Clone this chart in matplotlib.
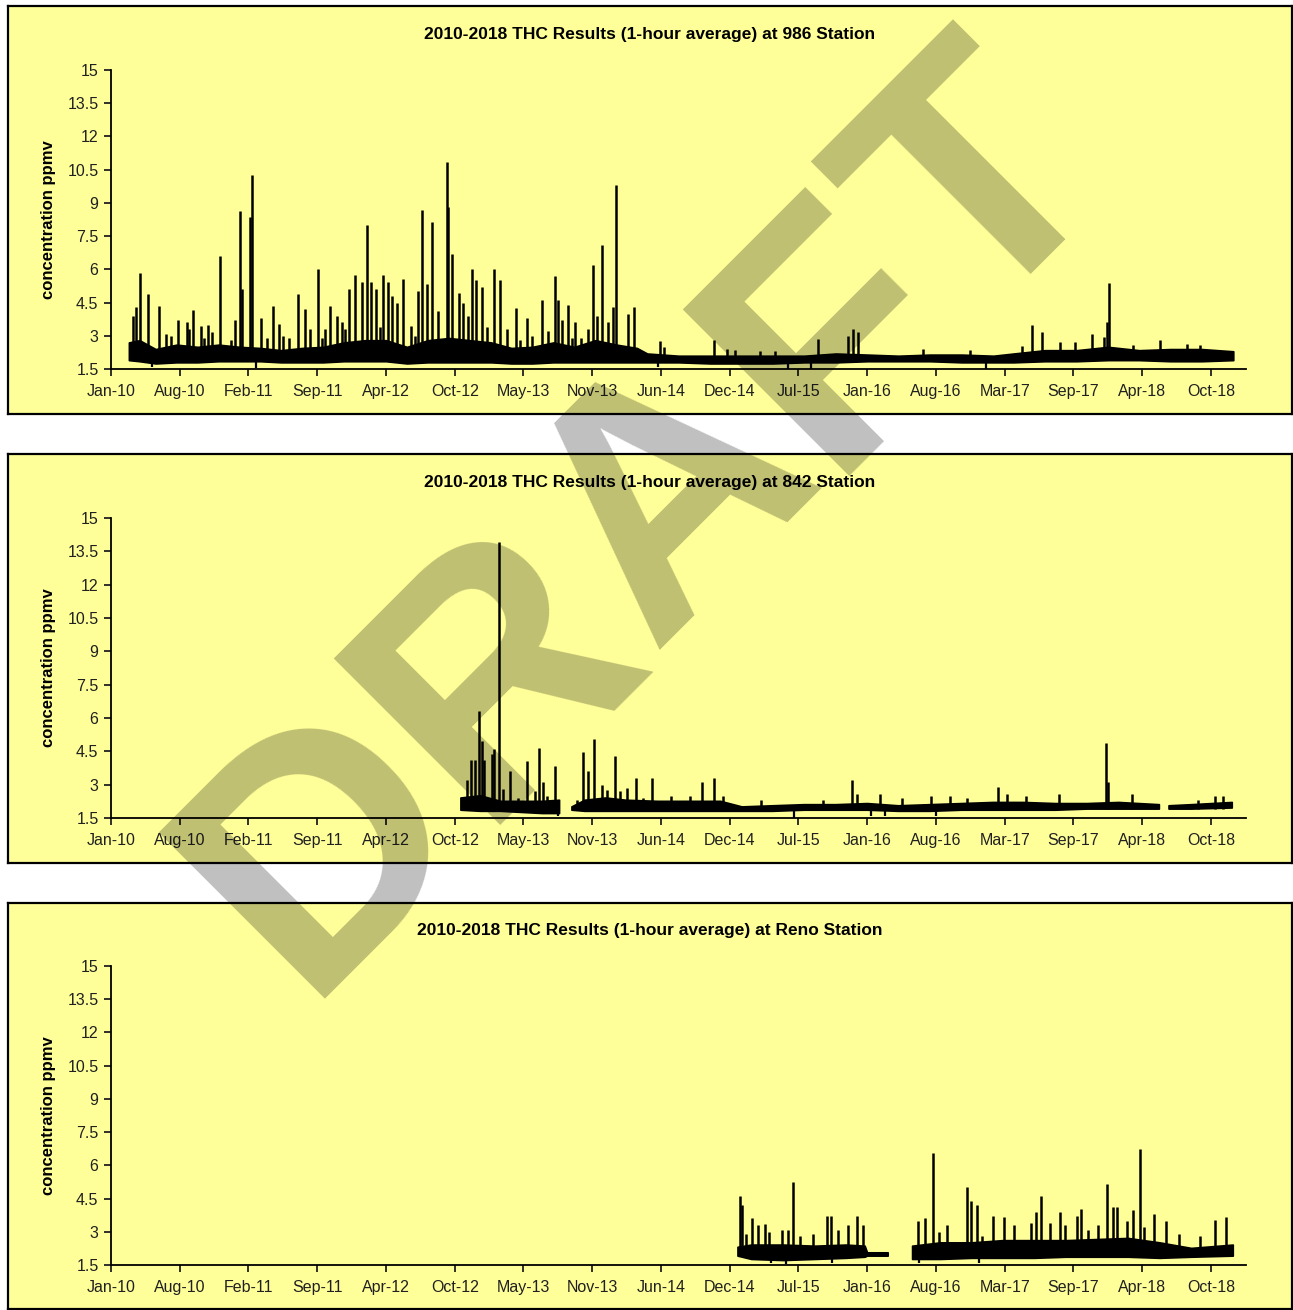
import numpy as np
import pandas as pd
import matplotlib
matplotlib.use("Agg")
import matplotlib.pyplot as plt

plt.rcParams['font.family'] = ['Liberation Sans', 'DejaVu Sans']

# -----------------------------
# AXES (Excel date axis, 200-day major unit)
# -----------------------------
axis_start = "2010-01-22"
axis_end = "2019-02-06"
tick_labels = ["Jan-10", "Aug-10", "Feb-11", "Sep-11", "Apr-12", "Oct-12",
               "May-13", "Nov-13", "Jun-14", "Dec-14", "Jul-15", "Jan-16",
               "Aug-16", "Mar-17", "Sep-17", "Apr-18", "Oct-18"]
y_ticks = [1.5, 3, 4.5, 6, 7.5, 9, 10.5, 12, 13.5, 15]
y_tick_labels = ["1.5", "3", "4.5", "6", "7.5", "9", "10.5", "12", "13.5", "15"]

# -----------------------------
# 986 STATION
# -----------------------------
st986_band_dates = ["2010-03-15", "2010-04-15", "2010-06-01", "2010-08-01", "2010-10-01",
                    "2010-12-01", "2011-02-01", "2011-04-01", "2011-06-01", "2011-08-01",
                    "2011-10-01", "2011-12-01", "2012-02-01", "2012-04-01", "2012-06-01",
                    "2012-08-01", "2012-10-01", "2012-12-01", "2013-02-01", "2013-04-01",
                    "2013-06-01", "2013-08-01", "2013-10-01", "2013-12-01", "2014-02-01",
                    "2014-04-01", "2014-05-01", "2014-08-01", "2014-11-01", "2015-02-01",
                    "2015-05-01", "2015-08-01", "2015-11-01", "2016-02-01", "2016-05-01",
                    "2016-08-01", "2016-11-01", "2017-02-01", "2017-04-01", "2017-07-01",
                    "2017-10-01", "2018-01-01", "2018-04-01", "2018-07-01", "2018-10-01",
                    "2018-12-31"]
st986_band_lo = [1.9, 1.85, 1.75, 1.8, 1.8, 1.85, 1.85, 1.85, 1.8, 1.8,
                 1.8, 1.85, 1.85, 1.85, 1.75, 1.8, 1.8, 1.8, 1.8, 1.75,
                 1.75, 1.8, 1.8, 1.8, 1.8, 1.8, 1.8, 1.8, 1.75, 1.75,
                 1.75, 1.8, 1.8, 1.85, 1.85, 1.85, 1.8, 1.8, 1.8, 1.85,
                 1.85, 1.9, 1.9, 1.85, 1.85, 1.9]
st986_band_hi = [2.7, 2.8, 2.4, 2.6, 2.5, 2.6, 2.5, 2.45, 2.35, 2.45,
                 2.5, 2.7, 2.8, 2.8, 2.5, 2.8, 2.9, 2.8, 2.7, 2.45,
                 2.5, 2.7, 2.5, 2.8, 2.6, 2.45, 2.2, 2.1, 2.1, 2.1,
                 2.1, 2.1, 2.2, 2.15, 2.1, 2.15, 2.15, 2.1, 2.2, 2.35,
                 2.35, 2.5, 2.35, 2.4, 2.4, 2.3]
st986_spike_dates = ["2010-03-26", "2010-04-05", "2010-04-16", "2010-05-09", "2010-06-10",
                     "2010-06-30", "2010-07-15", "2010-08-06", "2010-08-30", "2010-09-05",
                     "2010-09-18", "2010-10-10", "2010-10-20", "2010-11-01", "2010-11-11",
                     "2010-12-05", "2011-01-05", "2011-01-18", "2011-02-01", "2011-02-06",
                     "2011-03-02", "2011-03-09", "2011-04-02", "2011-04-22", "2011-05-09",
                     "2011-05-27", "2011-06-05", "2011-06-25", "2011-07-19", "2011-08-09",
                     "2011-08-25", "2011-09-15", "2011-09-28", "2011-10-07", "2011-10-21",
                     "2011-11-11", "2011-11-25", "2011-12-04", "2011-12-15", "2012-01-02",
                     "2012-01-21", "2012-02-05", "2012-02-16", "2012-03-03", "2012-03-14",
                     "2012-03-24", "2012-04-06", "2012-04-18", "2012-05-02", "2012-05-20",
                     "2012-06-13", "2012-06-25", "2012-07-04", "2012-07-14", "2012-07-28",
                     "2012-08-12", "2012-08-31", "2012-09-25", "2012-09-29", "2012-10-11",
                     "2012-10-30", "2012-11-12", "2012-11-25", "2012-12-06", "2012-12-19",
                     "2013-01-04", "2013-01-20", "2013-02-10", "2013-02-27", "2013-03-18",
                     "2013-04-13", "2013-04-26", "2013-05-17", "2013-05-30", "2013-06-29",
                     "2013-07-15", "2013-08-06", "2013-08-15", "2013-08-25", "2013-09-12",
                     "2013-09-25", "2013-10-03", "2013-10-20", "2013-11-11", "2013-11-25",
                     "2013-12-05", "2013-12-21", "2014-01-08", "2014-01-20", "2014-01-29",
                     "2014-02-11", "2014-03-07", "2014-03-23", "2014-06-07", "2014-06-19",
                     "2014-11-12", "2014-12-18", "2015-01-11", "2015-03-25", "2015-05-08",
                     "2015-09-11", "2015-12-07", "2015-12-21", "2016-01-05", "2016-07-12",
                     "2016-11-25", "2017-04-24", "2017-05-23", "2017-06-23", "2017-08-14",
                     "2017-09-26", "2017-11-16", "2017-12-20", "2017-12-29", "2018-01-04",
                     "2018-03-15", "2018-05-31", "2018-08-17", "2018-09-25"]
st986_spike_vals = [3.9, 4.3, 5.85, 4.9, 4.35, 3.1, 3.0, 3.7, 3.6, 3.3,
                    4.15, 3.45, 2.9, 3.5, 3.15, 6.6, 2.8, 3.7, 8.65, 5.1,
                    8.35, 10.25, 3.8, 2.9, 4.35, 3.55, 3.0, 2.9, 4.9, 4.2,
                    3.3, 6.0, 2.9, 3.3, 4.35, 3.9, 3.6, 3.3, 5.1, 5.75,
                    5.45, 8.0, 5.45, 5.1, 3.4, 5.75, 5.45, 4.8, 4.5, 5.55,
                    3.45, 3.0, 5.0, 8.7, 5.35, 8.15, 4.1, 10.85, 8.8, 6.7,
                    4.95, 4.5, 3.9, 6.0, 5.5, 5.2, 3.4, 6.0, 5.5, 3.3,
                    4.25, 2.8, 3.8, 3.0, 4.6, 3.2, 5.7, 4.6, 3.7, 4.4,
                    2.9, 3.6, 2.9, 3.3, 6.2, 3.9, 7.1, 3.6, 4.3, 9.8,
                    2.6, 4.0, 4.3, 2.75, 2.5, 2.8, 2.4, 2.35, 2.3, 2.3,
                    2.85, 3.0, 3.3, 3.15, 2.4, 2.35, 2.55, 3.5, 3.15, 2.7,
                    2.7, 3.1, 2.95, 3.6, 5.37, 2.6, 2.8, 2.65, 2.6]
st986_dip_dates = ["2010-05-20", "2011-03-20", "2014-06-01", "2015-06-15", "2015-08-20", "2017-01-10"]
st986_dip_vals = [1.6, 1.55, 1.6, 1.5, 1.5, 1.5]

# -----------------------------
# 842 STATION
# -----------------------------
st842_band_dates = ["2012-11-05", "2013-01-01", "2013-03-01", "2013-05-01", "2013-07-01",
                    "2013-08-19", "2013-09-05", "2013-09-24", "2013-11-01", "2014-01-01",
                    "2014-03-01", "2014-06-01", "2014-09-01", "2014-12-01", "2015-02-01",
                    "2015-05-01", "2015-08-01", "2015-11-01", "2016-02-01", "2016-05-01",
                    "2016-08-01", "2016-11-01", "2017-02-01", "2017-05-01", "2017-08-01",
                    "2017-11-01", "2018-02-01", "2018-05-30", "2018-06-10", "2018-06-27",
                    "2018-09-01", "2018-12-28"]
st842_band_lo = [1.85, 1.8, 1.8, 1.75, 1.7, 1.7, np.nan, 1.85, 1.8, 1.8,
                 1.8, 1.8, 1.8, 1.8, 1.8, 1.8, 1.85, 1.85, 1.85, 1.8,
                 1.8, 1.85, 1.85, 1.85, 1.85, 1.9, 1.9, 1.9, np.nan, 1.9,
                 1.9, 1.95]
st842_band_hi = [2.4, 2.5, 2.25, 2.25, 2.25, 2.3, np.nan, 2.0, 2.3, 2.4,
                 2.3, 2.25, 2.25, 2.25, 2.0, 2.05, 2.1, 2.1, 2.15, 2.05,
                 2.1, 2.15, 2.2, 2.2, 2.15, 2.15, 2.2, 2.1, np.nan, 2.05,
                 2.1, 2.2]
st842_spike_dates = ["2012-11-23", "2012-12-05", "2012-12-17", "2012-12-27", "2013-01-05",
                     "2013-01-12", "2013-02-04", "2013-02-10", "2013-02-25", "2013-03-07",
                     "2013-03-28", "2013-04-21", "2013-05-17", "2013-06-08", "2013-06-20",
                     "2013-07-02", "2013-07-14", "2013-08-07", "2013-10-10", "2013-10-25",
                     "2013-11-09", "2013-11-26", "2013-12-20", "2014-01-05", "2014-01-27",
                     "2014-02-12", "2014-03-04", "2014-03-28", "2014-04-18", "2014-05-16",
                     "2014-07-10", "2014-09-02", "2014-10-06", "2014-11-11", "2014-12-08",
                     "2015-03-27", "2015-09-25", "2015-12-19", "2015-12-31", "2016-03-09",
                     "2016-05-10", "2016-08-05", "2016-09-29", "2016-11-16", "2017-02-14",
                     "2017-03-12", "2017-05-08", "2017-08-12", "2017-12-26", "2018-01-01",
                     "2018-03-12", "2018-09-19", "2018-11-07", "2018-12-01"]
st842_spike_vals = [3.2, 4.1, 4.1, 6.3, 4.95, 4.1, 4.4, 4.6, 13.9, 2.8,
                    3.6, 2.4, 4.05, 2.7, 4.65, 3.1, 2.5, 3.85, 2.3, 4.45,
                    3.6, 5.05, 3.0, 2.75, 4.3, 2.7, 2.85, 3.3, 2.4, 3.3,
                    2.5, 2.5, 3.1, 3.3, 2.5, 2.3, 2.3, 3.2, 2.6, 2.6,
                    2.4, 2.5, 2.5, 2.4, 2.9, 2.6, 2.5, 2.6, 4.87, 3.1,
                    2.6, 2.3, 2.5, 2.5]
st842_dip_dates = ["2013-08-15", "2015-07-02", "2016-02-11", "2016-03-22", "2016-08-17"]
st842_dip_vals = [1.6, 1.5, 1.6, 1.6, 1.6]

# -----------------------------
# RENO STATION
# -----------------------------
reno_band_dates = ["2015-01-20", "2015-03-01", "2015-06-01", "2015-09-01", "2015-12-01",
                   "2016-01-25", "2016-02-01", "2016-04-01", "2016-05-01", "2016-06-11",
                   "2016-09-01", "2016-12-01", "2017-03-01", "2017-06-01", "2017-09-01",
                   "2017-12-01", "2018-03-01", "2018-06-01", "2018-09-01", "2018-12-31"]
reno_band_lo = [1.9, 1.75, 1.7, 1.75, 1.8, 1.85, 1.9, 1.9, np.nan, 1.75,
                1.75, 1.8, 1.8, 1.8, 1.85, 1.85, 1.85, 1.8, 1.85, 1.9]
reno_band_hi = [2.3, 2.4, 2.4, 2.35, 2.4, 2.35, 2.05, 2.05, np.nan, 2.35,
                2.5, 2.5, 2.6, 2.6, 2.6, 2.65, 2.7, 2.5, 2.25, 2.4]
reno_spike_dates = ["2015-01-26", "2015-02-01", "2015-02-13", "2015-03-03", "2015-03-18",
                    "2015-04-09", "2015-04-20", "2015-05-27", "2015-06-14", "2015-06-30",
                    "2015-07-20", "2015-08-26", "2015-10-05", "2015-10-17", "2015-11-07",
                    "2015-12-07", "2016-01-02", "2016-01-18", "2016-06-27", "2016-07-18",
                    "2016-08-10", "2016-08-27", "2016-09-20", "2016-11-15", "2016-11-28",
                    "2016-12-14", "2016-12-31", "2017-01-31", "2017-03-05", "2017-04-02",
                    "2017-05-21", "2017-06-04", "2017-06-19", "2017-07-16", "2017-08-13",
                    "2017-08-28", "2017-10-01", "2017-10-13", "2017-11-02", "2017-12-03",
                    "2017-12-29", "2018-01-14", "2018-01-26", "2018-02-26", "2018-03-15",
                    "2018-04-03", "2018-04-15", "2018-05-13", "2018-06-18", "2018-07-27",
                    "2018-09-26", "2018-11-07", "2018-12-10"]
reno_spike_vals = [4.6, 4.2, 2.9, 3.6, 3.3, 3.35, 3.0, 3.1, 3.1, 5.25,
                   2.8, 2.9, 3.7, 3.7, 3.1, 3.3, 3.7, 3.3, 3.5, 3.6,
                   6.55, 3.0, 3.3, 5.0, 4.4, 4.2, 2.8, 3.7, 3.65, 3.3,
                   3.4, 3.9, 4.6, 3.4, 3.9, 3.3, 3.7, 4.05, 3.1, 3.3,
                   5.15, 4.1, 4.1, 3.5, 4.0, 6.75, 3.2, 3.8, 3.5, 2.9,
                   2.8, 3.55, 3.65]
reno_dip_dates = ["2015-04-25", "2015-06-10", "2015-10-20", "2016-07-01", "2016-12-20"]
reno_dip_vals = [1.6, 1.55, 1.6, 1.6, 1.6]

titles = ["2010-2018 THC Results (1-hour average) at 986 Station",
          "2010-2018 THC Results (1-hour average) at 842 Station",
          "2010-2018 THC Results (1-hour average) at Reno Station"]

stations = [
    (st986_band_dates, st986_band_lo, st986_band_hi, st986_spike_dates, st986_spike_vals, st986_dip_dates, st986_dip_vals),
    (st842_band_dates, st842_band_lo, st842_band_hi, st842_spike_dates, st842_spike_vals, st842_dip_dates, st842_dip_vals),
    (reno_band_dates, reno_band_lo, reno_band_hi, reno_spike_dates, reno_spike_vals, reno_dip_dates, reno_dip_vals),
]

# -----------------------------
# FIGURE
# -----------------------------
W, H = 1293, 1310
fig = plt.figure(figsize=(W / 100, H / 100), dpi=100)

# panel boxes (pixel coords: top, bottom) and plot areas (top, bottom)
boxes = [(6, 414), (454, 863), (903, 1309)]
plots = [(70, 369), (518, 818), (966, 1265)]
box_left, box_right = 8, 1292
plot_left, plot_right = 111, 1246

t0 = pd.Timestamp(axis_start)
tick_pos = [t0 + pd.Timedelta(days=200 * k) for k in range(len(tick_labels))]

for i in range(3):
    bt, bb = boxes[i]
    bg = fig.add_axes([box_left / W, 1 - bb / H, (box_right - box_left) / W, (bb - bt) / H])
    bg.set_facecolor("#FFFF99")
    bg.set_xticks([])
    bg.set_yticks([])
    for s in bg.spines.values():
        s.set_linewidth(1.6)
        s.set_color("black")

    pt, pb = plots[i]
    ax = fig.add_axes([plot_left / W, 1 - pb / H, (plot_right - plot_left) / W, (pb - pt) / H])
    ax.patch.set_alpha(0)

    bd, lo, hi, sd, sv, dd, dv = stations[i]
    bd = pd.to_datetime(bd)
    lo = np.array(lo, dtype=float)
    hi = np.array(hi, dtype=float)
    ax.fill_between(bd, lo, hi, color="black", lw=1.2, edgecolor="black")
    ax.vlines(pd.to_datetime(sd), 1.9, sv, color="black", lw=1.8)
    ax.vlines(pd.to_datetime(dd), dv, 1.9, color="black", lw=1.6)

    ax.set_xlim(t0, pd.Timestamp(axis_end))
    ax.set_ylim(1.5, 15)
    ax.set_xticks(tick_pos)
    ax.set_xticklabels(tick_labels)
    ax.set_yticks(y_ticks)
    ax.set_yticklabels(y_tick_labels)
    ax.tick_params(axis="both", labelsize=11.5, colors="#202020", width=1.3, length=5, direction="out", pad=4)
    ax.tick_params(axis="x", pad=6)
    for s in ["top", "right"]:
        ax.spines[s].set_visible(False)
    for s in ["left", "bottom"]:
        ax.spines[s].set_linewidth(1.3)
    ax.set_ylabel("concentration ppmv", fontsize=12, fontweight="bold", labelpad=8)

    fig.text((box_left + box_right) / 2 / W, 1 - (bt + 28) / H, titles[i],
             ha="center", va="center", fontsize=12.5, fontweight="bold")

# -----------------------------
# DRAFT watermark, one letter at a time along a 45 degree line
# -----------------------------
word = "DRAFT"
wm_size = 246
wm_center = (649, 1310 - 527)   # pixels from bottom-left
renderer = fig.canvas.get_renderer()
prefix_w = [0.0]
for k in range(1, len(word) + 1):
    tmp = fig.text(0, 0, word[:k], fontsize=wm_size, fontweight="bold")
    prefix_w.append(tmp.get_window_extent(renderer).width)
    tmp.remove()
total = prefix_w[-1]
c45 = np.cos(np.radians(45))
for k, ch in enumerate(word):
    off = (prefix_w[k] + prefix_w[k + 1]) / 2 - total / 2
    px = wm_center[0] + off * c45
    py = wm_center[1] + off * c45
    fig.text(px / W, py / H, ch, fontsize=wm_size, fontweight="bold", color="black",
             alpha=0.25, rotation=45, ha="center", va="center", zorder=10)

fig.savefig("out.png", dpi=100)
